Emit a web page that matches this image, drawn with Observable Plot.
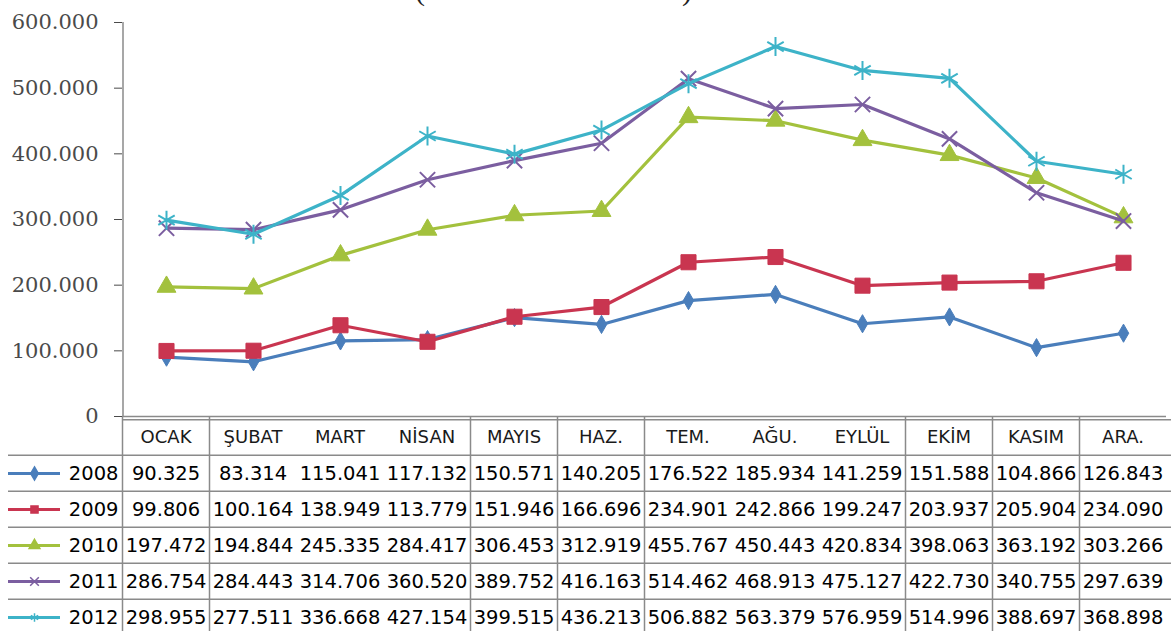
<!DOCTYPE html>
<html>
<head>
<meta charset="utf-8">
<script src="https://cdn.jsdelivr.net/npm/d3@7"></script>
<script src="https://cdn.jsdelivr.net/npm/@observablehq/plot@0.6"></script>
<style>
  html, body { margin: 0; padding: 0; background: #fff; overflow: hidden; }
  #wrap { position: relative; width: 1171px; height: 631px; overflow: hidden; }
  #title { position: absolute; left: 0; width: 1110px; top: -27px; text-align: center; z-index: 2;
           font: 30px "Liberation Serif", serif; letter-spacing: 3px; color: #222; }
  svg { display: block; }
  #chart { position: relative; z-index: 1; }
  #chart svg { overflow: visible; background: transparent !important; }
</style>
</head>
<body>
<div id="wrap">
  <div id="title">(Birim: Bin Yolcu)</div>
  <div id="chart"></div>
  <div id="table"></div>
</div>
<script>
// ---- data ----
const months = ["OCAK", "ŞUBAT", "MART", "NİSAN", "MAYIS", "HAZ.", "TEM.", "AĞU.", "EYLÜL", "EKİM", "KASIM", "ARA."];
const years = ["2008", "2009", "2010", "2011", "2012"];
const s2008 = [90325, 83314, 115041, 117132, 150571, 140205, 176522, 185934, 141259, 151588, 104866, 126843];
const s2009 = [99806, 100164, 138949, 113779, 151946, 166696, 234901, 242866, 199247, 203937, 205904, 234090];
const s2010 = [197472, 194844, 245335, 284417, 306453, 312919, 455767, 450443, 420834, 398063, 363192, 303266];
const s2011 = [286754, 284443, 314706, 360520, 389752, 416163, 514462, 468913, 475127, 422730, 340755, 297639];
const s2012 = [298955, 277511, 336668, 427154, 399515, 436213, 506882, 563379, 526959, 514996, 388697, 368898];
// table cell printed differently from the plotted point
const tableTextOverrides = [{year: "2012", month: "EYLÜL", text: "576.959"}];
const yTicks = [0, 100000, 200000, 300000, 400000, 500000, 600000];
// months that have a vertical grid line on their left side in the data table
const bordered = ["OCAK", "ŞUBAT", "MAYIS", "HAZ.", "TEM.", "EKİM", "KASIM", "ARA."];

// ---- styles ----
const colors = ["#4A7EBB", "#C93550", "#A3C13D", "#7B5EA0", "#3DB3C8"];
const symbols = ["diamond", "square", "triangle", "times", "asterisk"];
const markerR = [5.5, 8.5, 7, 7, 9];

const series = [s2008, s2009, s2010, s2011, s2012];
const rows = years.flatMap((yr, i) => months.map((m, j) => ({year: yr, month: m, value: series[i][j]})));
const fmt = d => d3.format(",")(d).replace(/,/g, ".");
const cellText = d => {
  const o = tableTextOverrides.find(t => t.year === d.year && t.month === d.month);
  return o ? o.text : fmt(d.value);
};

const W = 1171, ML = 122, MR = 5;
const step = (W - ML - MR) / months.length;

// ---- chart ----
const chartMarks = [
  Plot.ruleX([months[0]], {dx: -step / 2, stroke: "#8a8a8a", strokeWidth: 1.5}),
  Plot.ruleY([0], {stroke: "#8a8a8a", strokeWidth: 1.5})
];
years.forEach((yr, i) => {
  const d = rows.filter(r => r.year === yr);
  chartMarks.push(Plot.line(d, {x: "month", y: "value", stroke: colors[i], strokeWidth: 3.2}));
  chartMarks.push(Plot.dot(d, {x: "month", y: "value", symbol: symbols[i], r: markerR[i],
    fill: colors[i], stroke: colors[i], strokeWidth: symbols[i] === "times" || symbols[i] === "asterisk" ? 2 : 1}));
});
const chart = Plot.plot({
  width: W, height: 417,
  marginLeft: ML, marginRight: MR, marginTop: 22, marginBottom: 1,
  x: {type: "point", domain: months, padding: 0.5, axis: null},
  y: {domain: [0, 600000], ticks: yTicks, tickFormat: fmt, tickSize: 8, tickPadding: 16, label: null},
  style: {fontFamily: "DejaVu Serif", fontSize: "21px", color: "#4a4a4a", overflow: "visible"},
  marks: chartMarks
});
document.getElementById("chart").appendChild(chart);
document.getElementById("chart").style.height = "417px";

// ---- data table ----
const rowH = 36.6;
const table = Plot.plot({
  width: W, height: 214,
  marginLeft: ML, marginRight: MR, marginTop: 0, marginBottom: 0,
  x: {type: "band", domain: months, padding: 0, axis: null},
  y: {type: "band", domain: ["header", ...years], range: [0, 6 * rowH], padding: 0, axis: null},
  color: {domain: years, range: colors},
  symbol: {domain: years, range: symbols},
  style: {fontFamily: "DejaVu Sans", background: "transparent"},
  marks: [
    Plot.ruleY(["header"], {dy: -rowH / 2 + 0.5, insetRight: -MR, stroke: "#8a8a8a", strokeWidth: 1.5}),
    Plot.ruleY(years, {dy: -rowH / 2, insetLeft: -(ML - 8), insetRight: -MR, stroke: "#8a8a8a", strokeWidth: 1.5}),
    Plot.ruleX(bordered, {dx: -step / 2, stroke: "#8a8a8a", strokeWidth: 1.5}),
    Plot.text(months, {x: d => d, y: () => "header", text: d => d, fontSize: 18, fill: "#1a1a1a"}),
    Plot.text(rows, {x: "month", y: "year", text: cellText, fontSize: 19.5, fill: "#000"}),
    Plot.text(years, {y: d => d, text: d => d, frameAnchor: "left", dx: -4, textAnchor: "end", fontSize: 19.5, fill: "#000"}),
    Plot.ruleY(years, {y: d => d, stroke: d => d, strokeWidth: 3, insetLeft: -(ML - 8), insetRight: (W - ML - MR) + (ML - 60)}),
    Plot.dot(years, {y: d => d, frameAnchor: "left", dx: -(ML - 34), symbol: d => d, r: 4, fill: d => d, stroke: d => d})
  ]
});
document.getElementById("table").appendChild(table);
</script>
</body>
</html>
